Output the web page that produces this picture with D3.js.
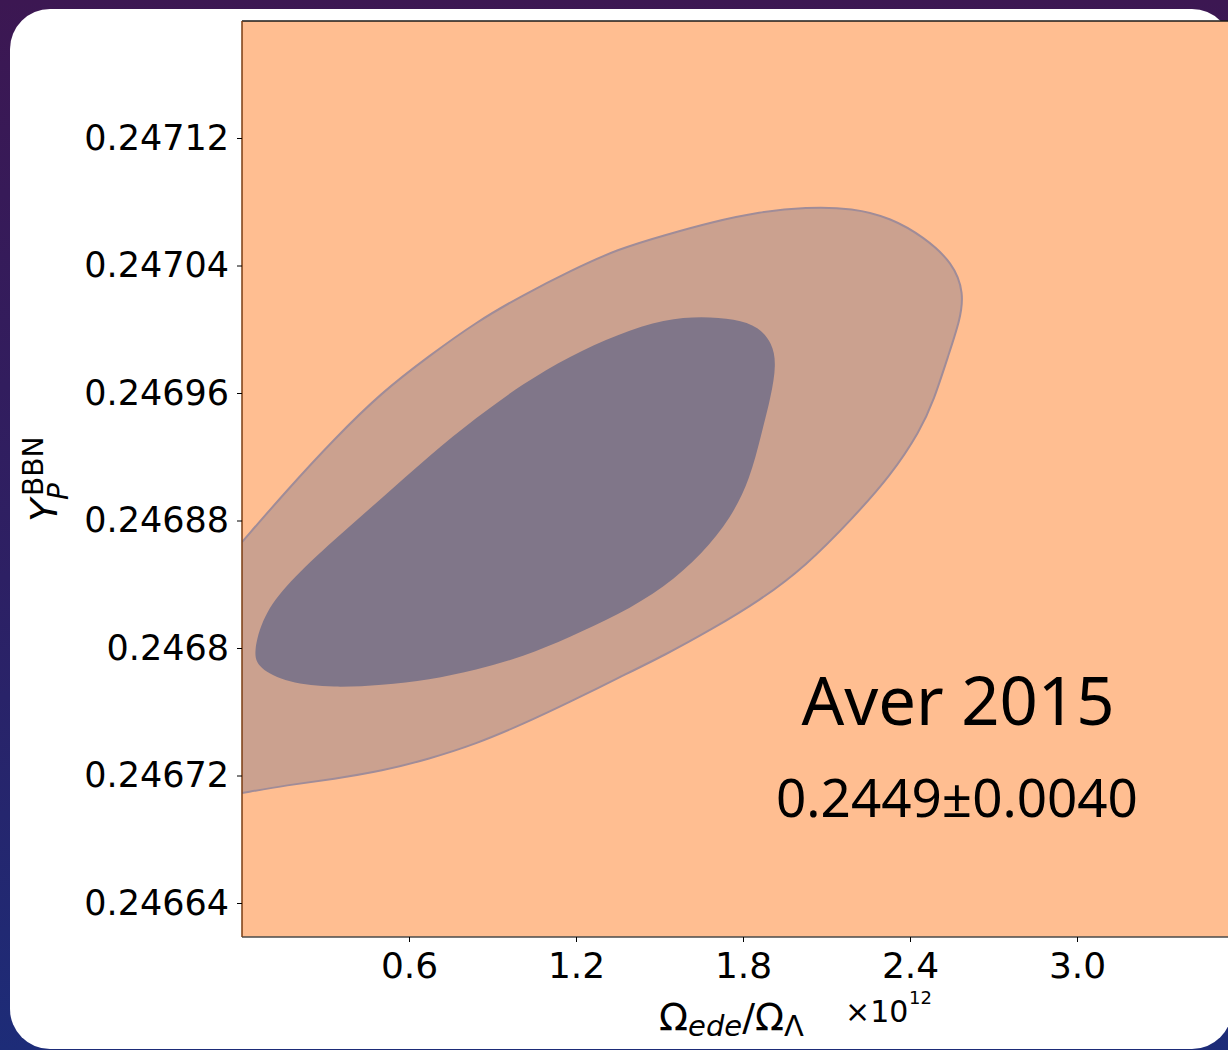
<!DOCTYPE html>
<html>
<head>
<meta charset="utf-8">
<script src="https://cdn.jsdelivr.net/npm/d3@7"></script>
<style>
html, body { margin: 0; padding: 0; }
body {
  width: 1228px; height: 1050px; overflow: hidden;
  background: linear-gradient(180deg, #3c1752 0%, #2d2064 55%, #1d2c78 100%);
}
svg { display: block; }
</style>
</head>
<body>
<div id="chart"></div>
<script>
// ticks
var xTicks = [0.6, 1.2, 1.8, 2.4, 3.0];
var yTicks = [0.24664, 0.24672, 0.2468, 0.24688, 0.24696, 0.24704, 0.24712];

// outer (2 sigma) contour, x in units of 1e12
var outerX = [0, 0.162, 0.331, 0.503, 0.672, 0.841, 1.010, 1.178, 1.351, 1.520, 1.689, 1.858, 2.026, 2.195, 2.332, 2.450, 2.555, 2.594, 2.580, 2.537, 2.486, 2.436, 2.332, 2.195, 2.026, 1.858, 1.689, 1.520, 1.351, 1.178, 1.010, 0.841, 0.672, 0.503, 0.331, 0.162, 0];
var outerY = [0.2468665, 0.2468991, 0.2469311, 0.2469606, 0.2469832, 0.2470045, 0.2470215, 0.2470365, 0.2470504, 0.2470591, 0.2470673, 0.2470736, 0.2470767, 0.2470761, 0.2470698, 0.2470579, 0.2470416, 0.2470227, 0.2470058, 0.2469832, 0.2469556, 0.2469362, 0.2469085, 0.2468816, 0.2468514, 0.2468295, 0.2468119, 0.2467956, 0.2467812, 0.2467661, 0.2467523, 0.2467398, 0.2467304, 0.2467228, 0.2467178, 0.2467140, 0.2467090];

// inner (1 sigma) contour
var innerX = [0.040, 0.058, 0.162, 0.331, 0.503, 0.672, 0.841, 1.010, 1.178, 1.351, 1.520, 1.653, 1.757, 1.825, 1.865, 1.901, 1.920, 1.905, 1.858, 1.771, 1.653, 1.520, 1.351, 1.178, 1.010, 0.841, 0.672, 0.503, 0.331, 0.162, 0.075];
var innerY = [0.2467969, 0.2467875, 0.2467780, 0.2467750, 0.2467768, 0.2467799, 0.2467862, 0.2467944, 0.2468069, 0.2468207, 0.2468383, 0.2468590, 0.2468816, 0.2469060, 0.2469336, 0.2469581, 0.2469782, 0.2469912, 0.2470015, 0.2470064, 0.2470082, 0.2470064, 0.2469970, 0.2469832, 0.2469660, 0.2469445, 0.2469205, 0.2468941, 0.2468680, 0.2468405, 0.2468200];

var titleText = "Aver 2015";
var valueText = "0.2449\u00b10.0040";

var W = 1228, H = 1050;
// note: "top" is taken by window.top, so prefix these
var pLeft = 242, pTop = 21, pBottom = 937, pRight = 1244;

var svg = d3.select("#chart").append("svg")
  .attr("width", W).attr("height", H);

// white card
svg.append("rect")
  .attr("x", 10).attr("y", 9)
  .attr("width", 1222).attr("height", 1040)
  .attr("rx", 40).attr("ry", 40)
  .attr("fill", "#ffffff");

var xScale = d3.scaleLinear().domain([0, 3.6]).range([pLeft, pRight]);
var yScale = d3.scaleLinear().domain([0.24664, 0.24712]).range([903, 138]);

svg.append("clipPath").attr("id", "plotclip")
  .append("rect")
  .attr("x", pLeft).attr("y", pTop)
  .attr("width", pRight - pLeft).attr("height", pBottom - pTop);

svg.append("rect")
  .attr("x", pLeft).attr("y", pTop)
  .attr("width", pRight - pLeft).attr("height", pBottom - pTop)
  .attr("fill", "#ffbe91");

var plot = svg.append("g").attr("clip-path", "url(#plotclip)");

var outerPts = outerX.map(function(d, i) { return [d, outerY[i]]; });
var innerPts = innerX.map(function(d, i) { return [d, innerY[i]]; });

// basis splines smooth out the small reading errors
var line = d3.line()
  .x(function(d) { return xScale(d[0]); })
  .y(function(d) { return yScale(d[1]); })
  .curve(d3.curveBasis);

plot.append("path")
  .attr("d", line(outerPts) + "Z")
  .attr("fill", "#cba18f");
plot.append("path")
  .attr("d", line(outerPts))
  .attr("fill", "none")
  .attr("stroke", "#a08c98")
  .attr("stroke-width", 2);

plot.append("path")
  .attr("d", line.curve(d3.curveBasisClosed)(innerPts))
  .attr("fill", "#807689");

// spines
svg.append("line").attr("x1", pLeft).attr("x2", pRight).attr("y1", pTop).attr("y2", pTop)
  .attr("stroke", "#1a1a1a").attr("stroke-width", 1.5);
svg.append("line").attr("x1", pLeft).attr("x2", pRight).attr("y1", pBottom).attr("y2", pBottom)
  .attr("stroke", "#4a4a4a").attr("stroke-width", 1.5);
svg.append("line").attr("x1", pLeft).attr("x2", pLeft).attr("y1", pTop).attr("y2", pBottom)
  .attr("stroke", "#7a3c12").attr("stroke-width", 1.5);

// axes
var xAxis = d3.axisBottom(xScale).tickValues(xTicks).tickSize(5).tickPadding(10)
  .tickFormat(d3.format(".1f"));
var yAxis = d3.axisLeft(yScale).tickValues(yTicks).tickSize(5).tickPadding(8)
  .tickFormat(function(d) { return String(d); });

var gx = svg.append("g").attr("transform", "translate(0," + pBottom + ")").call(xAxis);
var gy = svg.append("g").attr("transform", "translate(" + pLeft + ",0)").call(yAxis);

[gx, gy].forEach(function(g) {
  g.select(".domain").remove();
  g.selectAll(".tick line").attr("stroke", "#000").attr("stroke-width", 1);
  g.selectAll(".tick text")
    .attr("fill", "#000")
    .style("font-family", "'DejaVu Sans', sans-serif")
    .style("font-size", "35px");
});
gx.selectAll(".tick text").style("font-size", "36px").attr("dy", "0.71em");

// x label
var xl = svg.append("text")
  .attr("x", 659).attr("y", 1030)
  .style("font-family", "'DejaVu Sans', sans-serif")
  .style("font-size", "38px")
  .attr("fill", "#000");
xl.append("tspan").text("\u03a9");
xl.append("tspan").attr("dy", 6).style("font-size", "29px").style("font-style", "italic").text("ede");
xl.append("tspan").attr("dy", -6).text("/\u03a9");
xl.append("tspan").attr("dy", 6).style("font-size", "29px").text("\u039b");

// offset text of the x axis
svg.append("text")
  .attr("x", 845).attr("y", 1022)
  .style("font-family", "'DejaVu Sans', sans-serif")
  .style("font-size", "30px")
  .attr("fill", "#000")
  .text("\u00d710");
svg.append("text")
  .attr("x", 909).attr("y", 1004)
  .style("font-family", "'DejaVu Sans', sans-serif")
  .style("font-size", "18px")
  .attr("fill", "#000")
  .text("12");

// y label
var yl = svg.append("g").attr("transform", "translate(57,522) rotate(-90)")
  .style("font-family", "'DejaVu Sans', sans-serif")
  .attr("fill", "#000");
yl.append("text").attr("x", 0).attr("y", 0).style("font-size", "38px").style("font-style", "italic").text("Y");
yl.append("text").attr("x", 26).attr("y", -14).style("font-size", "28px").text("BBN");
yl.append("text").attr("x", 22).attr("y", 11).style("font-size", "28px").style("font-style", "italic").text("P");

// annotation
svg.append("text")
  .attr("x", 958).attr("y", 725)
  .attr("text-anchor", "middle")
  .style("font-family", "'Noto Sans', sans-serif")
  .style("font-size", "67px")
  .attr("fill", "#000")
  .text(titleText);
svg.append("text")
  .attr("x", 957).attr("y", 817)
  .attr("text-anchor", "middle")
  .style("font-family", "'Noto Sans', sans-serif")
  .style("font-size", "53px")
  .attr("fill", "#000")
  .text(valueText);
</script>
</body>
</html>
